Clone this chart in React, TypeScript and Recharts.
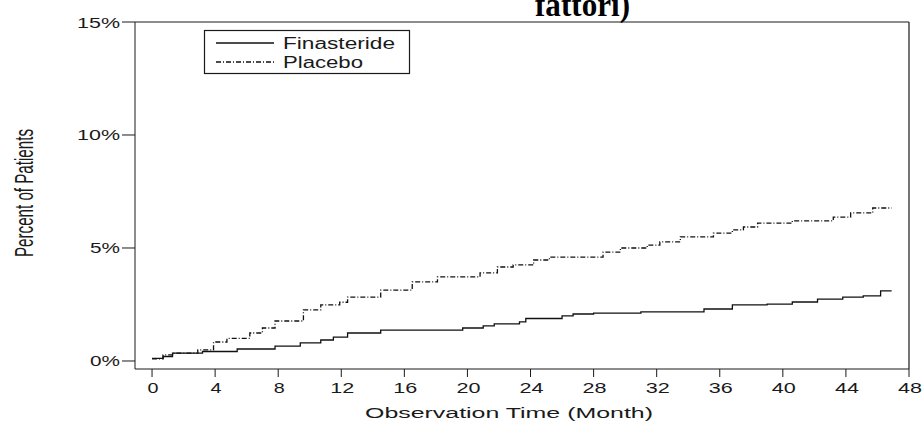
import React from 'react';
import { LineChart, Line, XAxis, YAxis, ReferenceLine } from 'recharts';

const W = 922;
const H = 421;

const xTicks = [0, 4, 8, 12, 16, 20, 24, 28, 32, 36, 40, 44, 48];
const yTicks = [0, 5, 10, 15];

const finMonths = [0, 0.7, 1.3, 3.2, 5.4, 7.8, 9.4, 10.7, 11.5, 12.4, 14.5, 19.7, 21.0, 21.7, 23.3, 23.7, 26, 26.7, 28, 31, 35, 36.8, 39, 40.6, 42.2, 43.8, 45.1, 46.2, 46.9];
const finPct = [0.12, 0.2, 0.35, 0.42, 0.53, 0.66, 0.8, 0.93, 1.06, 1.24, 1.37, 1.46, 1.55, 1.64, 1.73, 1.88, 2.0, 2.08, 2.12, 2.17, 2.3, 2.48, 2.52, 2.61, 2.74, 2.83, 2.88, 3.1, 3.1];

const plaMonths = [0, 0.7, 1.3, 2.9, 3.9, 4.75, 6.2, 7.0, 7.8, 9.6, 10.7, 11.9, 12.4, 14.5, 16.5, 18.1, 20.8, 21.9, 22.9, 24.2, 25.2, 28.6, 29.7, 31.4, 32.2, 33.5, 35.6, 36.8, 37.5, 38.4, 40.6, 43.2, 44.3, 45.7, 46.9];
const plaPct = [0.1, 0.27, 0.35, 0.49, 0.84, 1.0, 1.24, 1.46, 1.77, 2.26, 2.48, 2.6, 2.83, 3.14, 3.5, 3.72, 3.9, 4.16, 4.25, 4.47, 4.6, 4.82, 5.0, 5.13, 5.27, 5.49, 5.66, 5.8, 5.93, 6.1, 6.2, 6.37, 6.55, 6.77, 6.77];

const finData = finMonths.map((m, i) => ({ m, v: finPct[i] }));
const plaData = plaMonths.map((m, i) => ({ m, v: plaPct[i] }));

const FONT = '"Liberation Sans", Arial, sans-serif';
const INK = '#1a1a1a';

const XTick = (props: any) => {
  const { x, y, payload } = props;
  const s = String(payload.value);
  return (
    <text x={x + 1} y={y + 14} textAnchor="middle" fontFamily={FONT} fontSize={15} fill={INK}
      textLength={s.length === 1 ? 11 : 24} lengthAdjust="spacingAndGlyphs">{s}</text>
  );
};

const YTick = (props: any) => {
  const { y, payload } = props;
  const s = `${payload.value}%`;
  return (
    <text x={120} y={y + 5.5} textAnchor="end" fontFamily={FONT} fontSize={15} fill={INK}
      textLength={s.length === 2 ? 30 : 43} lengthAdjust="spacingAndGlyphs">{s}</text>
  );
};

export default function App() {
  return (
    <div style={{ position: 'absolute', left: 0, top: 0, width: W, height: H, background: '#fff', overflow: 'hidden' }}>
      <LineChart width={W} height={H} margin={{ top: 22, right: 13, bottom: 22, left: 75 }}>
        <XAxis xAxisId="b" type="number" dataKey="m" domain={[-1.08, 48]} ticks={xTicks} tickSize={8}
          height={30} allowDataOverflow interval={0} tick={<XTick />} stroke={INK} />
        <YAxis yAxisId="l" type="number" domain={[-0.354, 15]} ticks={yTicks} tickSize={13} width={60}
          allowDataOverflow interval={0} tick={<YTick />} stroke={INK} />
        <ReferenceLine xAxisId="b" yAxisId="l" y={15} stroke={INK} strokeWidth={1} />
        <ReferenceLine xAxisId="b" yAxisId="l" x={48} stroke={INK} strokeWidth={1.2} />
        <Line xAxisId="b" yAxisId="l" data={finData} dataKey="v" type="stepAfter" stroke="#111"
          strokeWidth={1.3} dot={false} isAnimationActive={false} />
        <Line xAxisId="b" yAxisId="l" data={plaData} dataKey="v" type="stepAfter" stroke="#111"
          strokeWidth={1.3} strokeDasharray="5 2 1 2" dot={false} isAnimationActive={false} />
      </LineChart>
      <svg width={W} height={H} style={{ position: 'absolute', left: 0, top: 0, pointerEvents: 'none' }}>
        <text x={535} y={16} fontFamily='"Liberation Serif", "Times New Roman", serif' fontWeight="bold"
          fontSize={34} fill="#000" textLength={95} lengthAdjust="spacingAndGlyphs">fattori)</text>
        <rect x={204.5} y={30.5} width={205} height={43} fill="#fff" stroke={INK} strokeWidth={1.2} />
        <line x1={216} x2={274} y1={43} y2={43} stroke="#111" strokeWidth={1.3} />
        <text x={283} y={48.5} fontFamily={FONT} fontSize={16} fill={INK} textLength={112}
          lengthAdjust="spacingAndGlyphs">Finasteride</text>
        <line x1={216} x2={274} y1={62} y2={62} stroke="#111" strokeWidth={1.3} strokeDasharray="5 2 1 2" />
        <text x={283} y={67.5} fontFamily={FONT} fontSize={16} fill={INK} textLength={80}
          lengthAdjust="spacingAndGlyphs">Placebo</text>
        <text transform="translate(33,193) rotate(-90)" textAnchor="middle" fontFamily={FONT} fontSize={26}
          fill={INK} textLength={128} lengthAdjust="spacingAndGlyphs">Percent of Patients</text>
        <text x={509} y={418} textAnchor="middle" fontFamily={FONT} fontSize={15.5} fill={INK}
          textLength={288} lengthAdjust="spacingAndGlyphs">Observation Time (Month)</text>
      </svg>
    </div>
  );
}
